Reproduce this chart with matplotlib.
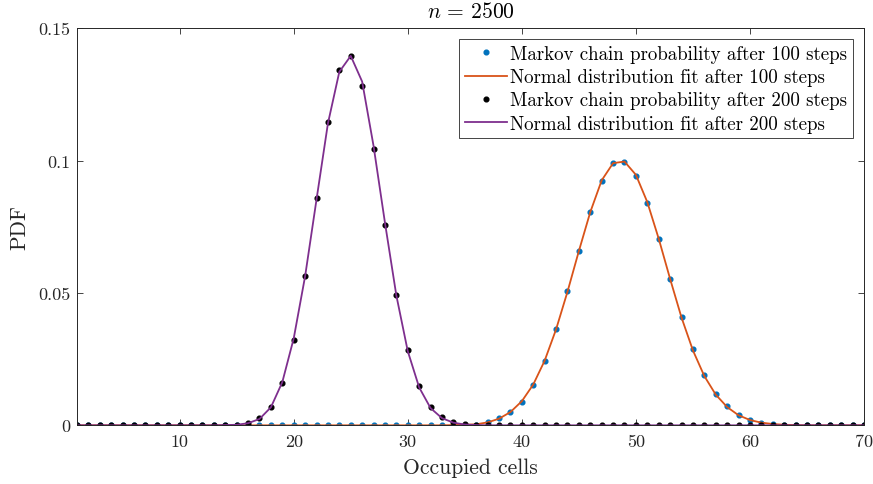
import matplotlib
matplotlib.use("Agg")
import matplotlib.pyplot as plt
import numpy as np

plt.rcParams['font.family'] = ['cmr10', 'DejaVu Serif']
plt.rcParams['mathtext.fontset'] = 'cm'
plt.rcParams['axes.formatter.use_mathtext'] = True

cells = list(range(1, 71))

markov_100 = [0, 0, 0, 0, 0, 0, 0, 0, 0, 0,
              0, 0, 0, 0, 0, 0, 0, 0, 0, 0,
              0, 0, 0, 0, 0, 0, 0, 0, 0, 0,
              0, 0, 0, 0.0001, 0.0001, 0.0003, 0.0012, 0.0026, 0.0049, 0.0089,
              0.0152, 0.0244, 0.0364, 0.0506, 0.0660, 0.0806, 0.0922, 0.0989, 0.0995, 0.0942,
              0.0839, 0.0703, 0.0553, 0.0410, 0.0288, 0.0190, 0.0118, 0.0072, 0.0039, 0.0020,
              0.0010, 0.0005, 0.0002, 0, 0, 0, 0, 0, 0, 0]

fit_100 = [0, 0, 0, 0, 0, 0, 0, 0, 0, 0,
           0, 0, 0, 0, 0, 0, 0, 0, 0, 0,
           0, 0, 0, 0, 0, 0, 0, 0, 0, 0,
           0, 0, 0, 0.0001, 0.0002, 0.0004, 0.0011, 0.0025, 0.0050, 0.0091,
           0.0154, 0.0244, 0.0362, 0.0504, 0.0658, 0.0805, 0.0925, 0.0990, 0.0996, 0.0946,
           0.0843, 0.0705, 0.0553, 0.0407, 0.0283, 0.0186, 0.0116, 0.0069, 0.0038, 0.0020,
           0.0010, 0.0005, 0.0002, 0.0001, 0, 0, 0, 0, 0, 0]

markov_200 = [0, 0, 0, 0, 0, 0, 0, 0, 0, 0,
              0, 0, 0, 0, 0.0002, 0.0009, 0.0026, 0.0069, 0.0161, 0.0322,
              0.0563, 0.0857, 0.1144, 0.1343, 0.1395, 0.1280, 0.1044, 0.0758, 0.0491, 0.0285,
              0.0149, 0.0069, 0.0030, 0.0011, 0.0004, 0.0001, 0, 0, 0, 0,
              0, 0, 0, 0, 0, 0, 0, 0, 0, 0,
              0, 0, 0, 0, 0, 0, 0, 0, 0, 0,
              0, 0, 0, 0, 0, 0, 0, 0, 0, 0]

fit_200 = [0, 0, 0, 0, 0, 0, 0, 0, 0, 0,
           0, 0, 0, 0.0001, 0.0002, 0.0008, 0.0024, 0.0068, 0.0163, 0.0328,
           0.0563, 0.0853, 0.1140, 0.1335, 0.1395, 0.1298, 0.1055, 0.0765, 0.0490, 0.0280,
           0.0143, 0.0065, 0.0027, 0.0010, 0.0003, 0.0001, 0, 0, 0, 0,
           0, 0, 0, 0, 0, 0, 0, 0, 0, 0,
           0, 0, 0, 0, 0, 0, 0, 0, 0, 0,
           0, 0, 0, 0, 0, 0, 0, 0, 0, 0]

xticks = [10, 20, 30, 40, 50, 60, 70]
yticks = [0, 0.05, 0.1, 0.15]
ytick_labels = ['0', '0.05', '0.1', '0.15']

fig = plt.figure(figsize=(8.73, 4.85), dpi=100)
ax = fig.add_axes([0.0882, 0.121, 0.9015, 0.819])

ax.plot(cells, markov_100, linestyle='none', marker='o', markersize=3.4,
        color='#0072BD', label='Markov chain probability after 100 steps')
ax.plot(cells, fit_100, color='#D95319', linewidth=1.3,
        label='Normal distribution fit after 100 steps')
ax.plot(cells, markov_200, linestyle='none', marker='o', markersize=3.4,
        color='black', label='Markov chain probability after 200 steps')
ax.plot(cells, fit_200, color='#7E2F8E', linewidth=1.3,
        label='Normal distribution fit after 200 steps')

ax.set_xlim(1, 70)
ax.set_ylim(0, 0.15)
ax.set_xticks(xticks)
ax.set_xticklabels([str(t) for t in xticks])
ax.set_yticks(yticks)
ax.set_yticklabels(ytick_labels)
ax.tick_params(direction='in', length=4, width=0.6, labelsize=13,
               top=True, right=True, colors='#262626', labelcolor='#262626')
ax.tick_params(axis='x', pad=6)
ax.tick_params(axis='y', pad=5)
for s in ax.spines.values():
    s.set_linewidth(0.7)
    s.set_color('#262626')

ax.set_xlabel('Occupied cells', fontsize=15.5, color='#262626', labelpad=6)
ax.set_ylabel('PDF', fontsize=15.5, color='#262626', labelpad=6)
ax.set_title(r'$n\,=\,2500$', fontsize=15.5, color='black', pad=8)

leg = ax.legend(loc='upper right', bbox_to_anchor=(0.986, 0.972), borderaxespad=0,
                fontsize=13.6, handlelength=2.2, handletextpad=0.2, labelspacing=0.28,
                borderpad=0.3, fancybox=False, framealpha=1, markerscale=1.0)
leg.get_frame().set_edgecolor('#262626')
leg.get_frame().set_linewidth(0.6)

fig.savefig('out.png', dpi=100)
